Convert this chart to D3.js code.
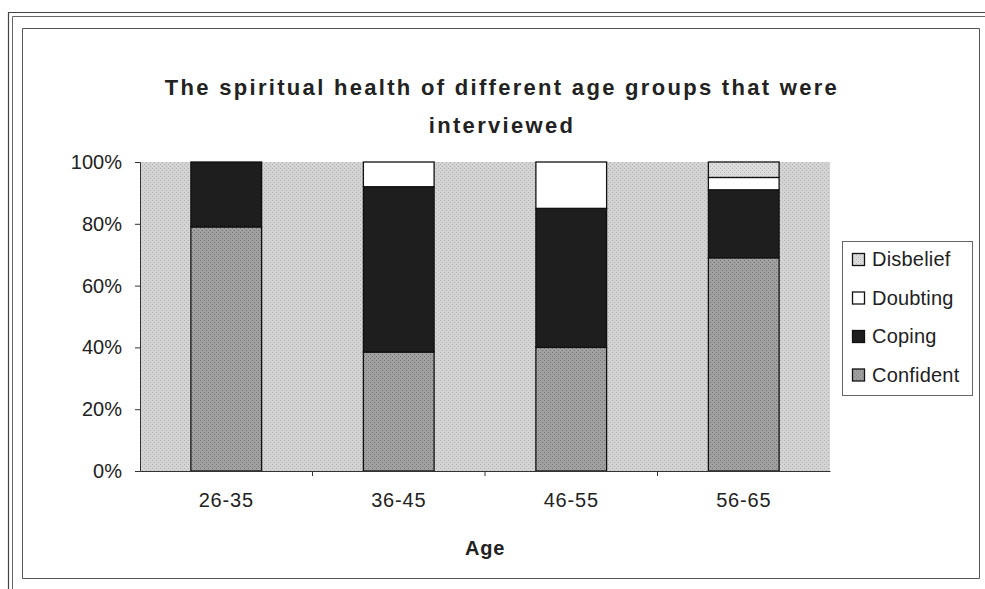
<!DOCTYPE html>
<html>
<head>
<meta charset="utf-8">
<script src="https://cdn.jsdelivr.net/npm/d3@7"></script>
<style>
	html, body { margin: 0; padding: 0; background: #fff; }
	svg { display: block; font-family: 'Liberation Sans', Arial, sans-serif; }
</style>
</head>
<body>
<div id="chart"></div>
<script>
'use strict';

////////// Data //////////
const categories = ['26-35', '36-45', '46-55', '56-65'];
const confident = [79, 38.5, 40, 69];
const coping = [21, 53.5, 45, 22];
const doubting = [0, 8, 15, 4];
const disbelief = [0, 0, 0, 5];
const yTicks = [0, 20, 40, 60, 80, 100];
const seriesNames = ['Confident', 'Coping', 'Doubting', 'Disbelief'];
const legendOrder = ['Disbelief', 'Doubting', 'Coping', 'Confident'];
const titleLines = ['The spiritual health of different age groups that were', 'interviewed'];

////////// Layout //////////
const width = 985;
const height = 589;
const plot = { left: 140, right: 830, top: 162, bottom: 471 };
const textColor = '#222';
const fills = {
	Confident: '#9d9d9d',
	Coping: '#1e1e1e',
	Doubting: '#ffffff',
	Disbelief: '#d9d9d9'
};

const rows = categories.map((c, i) => ({
	category: c,
	Confident: confident[i],
	Coping: coping[i],
	Doubting: doubting[i],
	Disbelief: disbelief[i]
}));

const svg = d3.select('#chart').append('svg')
	.attr('width', width)
	.attr('height', height);

// stipple patterns to give the scanned look
const defs = svg.append('defs');
const makeStipple = (id, base, dot) => {
	const p = defs.append('pattern')
		.attr('id', id)
		.attr('width', 4).attr('height', 4)
		.attr('patternUnits', 'userSpaceOnUse');
	p.append('rect').attr('width', 4).attr('height', 4).attr('fill', base);
	p.append('rect').attr('x', 0).attr('y', 0).attr('width', 1).attr('height', 1).attr('fill', dot);
	p.append('rect').attr('x', 2).attr('y', 2).attr('width', 1).attr('height', 1).attr('fill', dot);
};
makeStipple('bgStipple', '#d3d3d3', '#b5b5b5');
makeStipple('confStipple', '#a0a0a0', '#7a7a7a');
makeStipple('disbStipple', '#dcdcdc', '#bdbdbd');
const patternFill = {
	Confident: 'url(#confStipple)',
	Coping: fills.Coping,
	Doubting: fills.Doubting,
	Disbelief: 'url(#disbStipple)'
};

// frame (outer double line + inner chart border)
const frame = svg.append('g').attr('class', 'frame').attr('fill', 'none');
frame.append('path').attr('d', `M8.5,${height} V12.5 H${width}`).attr('stroke', '#444').attr('stroke-width', 1.2);
frame.append('path').attr('d', `M12.5,${height} V16.5 H${width}`).attr('stroke', '#666').attr('stroke-width', 1);
frame.append('path').attr('d', `M22.5,578.5 V28.5 H979.5 V578.5 Z`).attr('stroke', '#555').attr('stroke-width', 1);

// title
svg.append('g').attr('class', 'title')
	.selectAll('text')
	.data(titleLines)
	.join('text')
		.attr('x', 502)
		.attr('y', (d, i) => 95 + i * 38)
		.attr('text-anchor', 'middle')
		.attr('fill', textColor)
		.style('font-size', '22px')
		.style('font-weight', 'bold')
		.style('letter-spacing', '2.3px')
		.text(d => d);

// scales
const x = d3.scaleBand()
	.domain(categories)
	.range([plot.left, plot.right])
	.paddingInner(0.59)
	.paddingOuter(0.295);
const y = d3.scaleLinear()
	.domain([0, 100])
	.range([plot.bottom, plot.top]);

// plot background
svg.append('rect')
	.attr('x', plot.left)
	.attr('y', plot.top)
	.attr('width', plot.right - plot.left)
	.attr('height', plot.bottom - plot.top)
	.attr('fill', 'url(#bgStipple)');

// bars
const stacked = d3.stack().keys(seriesNames)(rows);
svg.append('g').attr('class', 'bars')
	.selectAll('g')
	.data(stacked)
	.join('g')
		.attr('fill', d => patternFill[d.key])
	.selectAll('rect')
	.data(d => d.filter(s => s[1] - s[0] > 0))
	.join('rect')
		.attr('x', d => x(d.data.category))
		.attr('y', d => y(d[1]))
		.attr('width', x.bandwidth())
		.attr('height', d => y(d[0]) - y(d[1]))
		.attr('stroke', '#111')
		.attr('stroke-width', 1.3);

// y axis
const yAxis = svg.append('g')
	.attr('class', 'y-axis')
	.attr('transform', `translate(${plot.left},0)`)
	.call(d3.axisLeft(y).tickValues(yTicks).tickSize(5).tickPadding(13).tickFormat(d => d + '%'));
yAxis.select('.domain').attr('stroke', '#333');
yAxis.selectAll('line').attr('stroke', '#333');
yAxis.selectAll('text').attr('fill', textColor).style('font-size', '20px').style('font-family', "'Liberation Sans', Arial, sans-serif");

// x axis (ticks on category boundaries)
const xAxis = svg.append('g')
	.attr('class', 'x-axis')
	.attr('transform', `translate(0,${plot.bottom})`)
	.call(d3.axisBottom(x).tickSize(0).tickPadding(22));
xAxis.select('.domain').attr('stroke', '#333');
xAxis.selectAll('text').attr('fill', textColor).style('font-size', '20px').style('letter-spacing', '0.8px').style('font-family', "'Liberation Sans', Arial, sans-serif");
xAxis.selectAll('.boundary')
	.data(categories.slice(1))
	.join('line')
		.attr('class', 'boundary')
		.attr('x1', d => x(d) - x.step() * x.paddingInner() / 2)
		.attr('x2', d => x(d) - x.step() * x.paddingInner() / 2)
		.attr('y1', 0)
		.attr('y2', 5)
		.attr('stroke', '#333');

// axis title
svg.append('text')
	.attr('x', (plot.left + plot.right) / 2)
	.attr('y', 555)
	.attr('text-anchor', 'middle')
	.attr('fill', textColor)
	.style('font-size', '20px')
	.style('font-weight', 'bold')
	.style('letter-spacing', '0.8px')
	.text('Age');

// legend
const legend = svg.append('g').attr('class', 'legend');
legend.append('rect')
	.attr('x', 842.5).attr('y', 241.5)
	.attr('width', 130).attr('height', 154)
	.attr('fill', '#fff')
	.attr('stroke', '#666');
const items = legend.selectAll('.item')
	.data(legendOrder)
	.join('g')
		.attr('class', 'item')
		.attr('transform', (d, i) => `translate(852, ${259 + i * 38.5})`);
items.append('rect')
	.attr('x', 0.5).attr('y', -5.5)
	.attr('width', 12).attr('height', 12)
	.attr('fill', d => patternFill[d])
	.attr('stroke', '#111')
	.attr('stroke-width', 1.3);
items.append('text')
	.attr('x', 20)
	.attr('dy', '0.35em')
	.attr('fill', textColor)
	.style('font-size', '20px')
	.style('letter-spacing', '0.2px')
	.text(d => d);
</script>
</body>
</html>
